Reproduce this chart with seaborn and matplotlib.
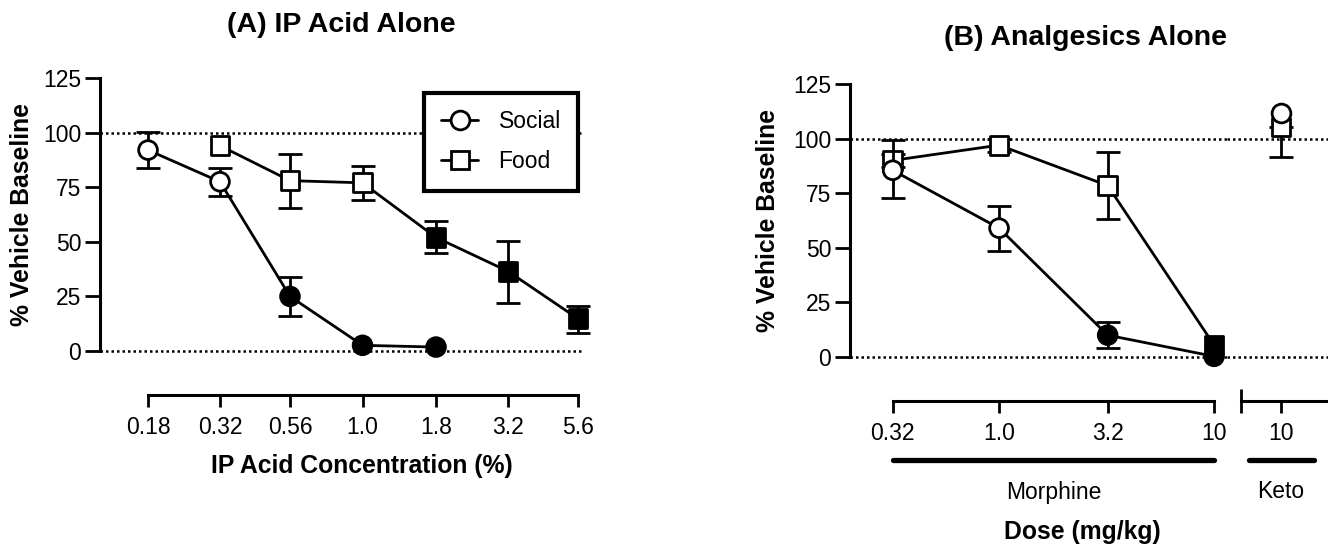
import numpy as np
import pandas as pd
import seaborn as sns
import matplotlib.pyplot as plt
from matplotlib.lines import Line2D
from matplotlib.transforms import blended_transform_factory

# ---- data ----
# (A) IP acid alone
ip_conc = [0.18, 0.32, 0.56, 1.0, 1.8, 3.2, 5.6]
ip_social_x = [0.18, 0.32, 0.56, 1.0, 1.8]
ip_social_y = [92, 77.5, 25, 2.6, 1.8]
ip_social_lo = [84, 71, 16, np.nan, np.nan]
ip_social_hi = [100.2, 83.7, 34, np.nan, np.nan]
ip_social_filled = [False, False, True, True, True]

ip_food_x = [0.32, 0.56, 1.0, 1.8, 3.2, 5.6]
ip_food_y = [94, 78, 77, 52, 36.5, 14.8]
ip_food_lo = [np.nan, 65.3, 69.2, 44.7, 22.2, 8.3]
ip_food_hi = [np.nan, 90.3, 84.8, 59.5, 50.5, 20.5]
ip_food_filled = [False, False, False, True, True, True]

# (B) analgesics alone
morph_dose = [0.32, 1.0, 3.2, 10]
morph_social_y = [85.5, 59, 10, 0.3]
morph_social_lo = [72.6, 48.6, 4.3, np.nan]
morph_social_hi = [99.3, 69.2, 16, np.nan]
morph_social_filled = [False, False, True, True]

morph_food_y = [90, 97, 78.5, 5.5]
morph_food_lo = [87, 94, 63.1, np.nan]
morph_food_hi = [93, 100, 93.7, np.nan]
morph_food_filled = [False, False, False, True]

keto_dose = [10]
keto_social_y = [111.5]
keto_food_y = [105.5]
keto_food_lo = [91.6]

ip_tick_labels = ['0.18', '0.32', '0.56', '1.0', '1.8', '3.2', '5.6']
morph_tick_labels = ['0.32', '1.0', '3.2', '10']

# ---- style ----
sns.set_style('ticks', {'axes.edgecolor': 'black', 'text.color': 'black',
                        'xtick.color': 'black', 'ytick.color': 'black',
                        'axes.labelcolor': 'black'})
plt.rcParams['font.family'] = ['Liberation Sans', 'DejaVu Sans']
plt.rcParams['axes.linewidth'] = 2.2

W, H = 1328, 550
fig = plt.figure(figsize=(W / 100, H / 100), dpi=100)


def px_axes(left, top, right, bottom):
    return fig.add_axes([left / W, 1 - bottom / H, (right - left) / W, (bottom - top) / H])


LW = 2.0
MS = 13.5
TICK_FS = 16.5
LABEL_FS = 17.8
TITLE_FS = 20.5


def draw_series(ax, x, y, lo, hi, filled, marker, z):
    df = pd.DataFrame({'x': x, 'y': y, 'lo': lo, 'hi': hi, 'filled': filled})
    sns.lineplot(data=df, x='x', y='y', color='black', linewidth=LW, sort=False,
                 estimator=None, ax=ax, zorder=z, clip_on=False)
    eb = df.dropna(subset=['lo'])
    if len(eb):
        hi_v = eb['hi'].fillna(eb['y'])
        ax.errorbar(eb['x'], eb['y'], yerr=[eb['y'] - eb['lo'], hi_v - eb['y']],
                    fmt='none', ecolor='black', elinewidth=2.0, capsize=8.5,
                    capthick=2.0, zorder=z + 0.5, clip_on=False)
    sns.scatterplot(data=df, x='x', y='y', hue='filled',
                    palette={True: 'black', False: 'white'}, marker=marker,
                    s=MS ** 2, edgecolor='black', linewidth=LW, legend=False,
                    ax=ax, zorder=z + 1, clip_on=False)


def style_axis(ax):
    ax.set_ylim(0, 125)
    ax.set_yticks([0, 25, 50, 75, 100, 125])
    ax.spines['top'].set_visible(False)
    ax.spines['right'].set_visible(False)
    ax.spines['left'].set_bounds(0, 125)
    ax.spines['bottom'].set_position(('outward', 31.5))
    ax.tick_params(axis='y', length=10.5, width=2.0, labelsize=TICK_FS, pad=3)
    ax.tick_params(axis='x', which='major', length=8.5, width=2.0, labelsize=TICK_FS, pad=6.5)
    ax.set_xlabel('')
    ax.set_ylabel('')


dot = (0, (1, 1.2))


def ref_lines(ax, x0=None, x1=None):
    for yv in (0, 100):
        if x0 is None:
            ax.axhline(yv, color='black', linestyle=dot, linewidth=1.8, zorder=1, clip_on=False)
        else:
            ax.hlines(yv, x0, x1, colors='black', linestyles=dot, linewidth=1.8,
                      zorder=1, clip_on=False)


# ---- panel A ----
axA = px_axes(100, 78, 600, 351)
axA.set_xscale('log')
axA.set_xlim(0.1226, 6.677)
ref_lines(axA, 0.1226, 5.8)
draw_series(axA, ip_food_x, ip_food_y, ip_food_lo, ip_food_hi, ip_food_filled, 's', 2)
draw_series(axA, ip_social_x, ip_social_y, ip_social_lo, ip_social_hi, ip_social_filled, 'o', 5)
style_axis(axA)
axA.spines['bottom'].set_bounds(ip_conc[0], ip_conc[-1])
axA.set_xticks(ip_conc)
axA.set_xticklabels(ip_tick_labels)
axA.set_xticks([], minor=True)

handles = [Line2D([], [], color='black', lw=LW, marker='o', ms=MS, mfc='white', mec='black', mew=LW),
           Line2D([], [], color='black', lw=LW, marker='s', ms=MS, mfc='white', mec='black', mew=LW)]
leg = axA.legend(handles, ['Social', 'Food'], loc='upper right',
                 bbox_to_anchor=(578 / W, 1 - 93 / H), bbox_transform=fig.transFigure,
                 fontsize=16.5, frameon=True, fancybox=False, borderaxespad=0,
                 handlelength=1.6, handletextpad=0.9, labelspacing=0.75,
                 borderpad=0.75, framealpha=1)
leg.get_frame().set_edgecolor('black')
leg.get_frame().set_linewidth(3)
leg.set_zorder(10)

fig.text(341 / W, 1 - 25 / H, '(A) IP Acid Alone', ha='center', va='center',
         fontsize=TITLE_FS, fontweight='bold')
fig.text(362 / W, 1 - 466 / H, 'IP Acid Concentration (%)', ha='center', va='center',
         fontsize=LABEL_FS, fontweight='bold')
fig.text(22 / W, 1 - 214 / H, '% Vehicle Baseline', ha='center', va='center',
         rotation=90, fontsize=LABEL_FS, fontweight='bold')

# ---- panel B (morphine) ----
axB = px_axes(850, 84, 1227, 357)
axB.set_xscale('log')
axB.set_xlim(0.2026, 11.49)
ref_lines(axB)
draw_series(axB, morph_dose, morph_food_y, morph_food_lo, morph_food_hi, morph_food_filled, 's', 2)
draw_series(axB, morph_dose, morph_social_y, morph_social_lo, morph_social_hi, morph_social_filled, 'o', 5)
style_axis(axB)
axB.spines['bottom'].set_bounds(morph_dose[0], morph_dose[-1])
axB.set_xticks(morph_dose)
axB.set_xticklabels(morph_tick_labels)
axB.set_xticks([morph_dose[-1]], minor=True)
axB.tick_params(axis='x', which='minor', direction='inout', length=17, width=2.0)

# ---- panel B (keto) ----
axK = px_axes(1227, 84, 1328, 357)
axK.set_xscale('log')
axK.set_xlim(5.615, 16.53)
ref_lines(axK)
draw_series(axK, keto_dose, keto_food_y, keto_food_lo, [np.nan], [False], 's', 2)
draw_series(axK, keto_dose, keto_social_y, [np.nan], [np.nan], [False], 'o', 5)
style_axis(axK)
axK.spines['left'].set_visible(False)
axK.tick_params(axis='y', left=False, labelleft=False)
axK.spines['bottom'].set_bounds(6.55, 16.53)
axK.set_xticks(keto_dose)
axK.set_xticklabels(['10'])
axK.set_xticks([6.55], minor=True)
axK.tick_params(axis='x', which='minor', direction='inout', length=17, width=2.0)

# group bars under panel B
trB = blended_transform_factory(axB.transData, fig.transFigure)
trK = blended_transform_factory(axK.transData, fig.transFigure)
bar_y = 1 - 460 / H
fig.add_artist(Line2D([morph_dose[0], morph_dose[-1]], [bar_y, bar_y], transform=trB,
                      color='black', lw=3.8, solid_capstyle='round'))
fig.add_artist(Line2D([7.1, 14.2], [bar_y, bar_y], transform=trK,
                      color='black', lw=3.8, solid_capstyle='round'))
fig.text(np.sqrt(morph_dose[0] * morph_dose[-1]), 1 - 492 / H, 'Morphine', transform=trB,
         ha='center', va='center', fontsize=TICK_FS)
fig.text(keto_dose[0], 1 - 492 / H, 'Keto', transform=trK, ha='center', va='center',
         fontsize=TICK_FS)

fig.text(1085 / W, 1 - 38 / H, '(B) Analgesics Alone', ha='center', va='center',
         fontsize=TITLE_FS, fontweight='bold')
fig.text(1082 / W, 1 - 532 / H, 'Dose (mg/kg)', ha='center', va='center',
         fontsize=LABEL_FS, fontweight='bold')
fig.text(768 / W, 1 - 220 / H, '% Vehicle Baseline', ha='center', va='center',
         rotation=90, fontsize=LABEL_FS, fontweight='bold')

fig.savefig('out.png', dpi=100)
